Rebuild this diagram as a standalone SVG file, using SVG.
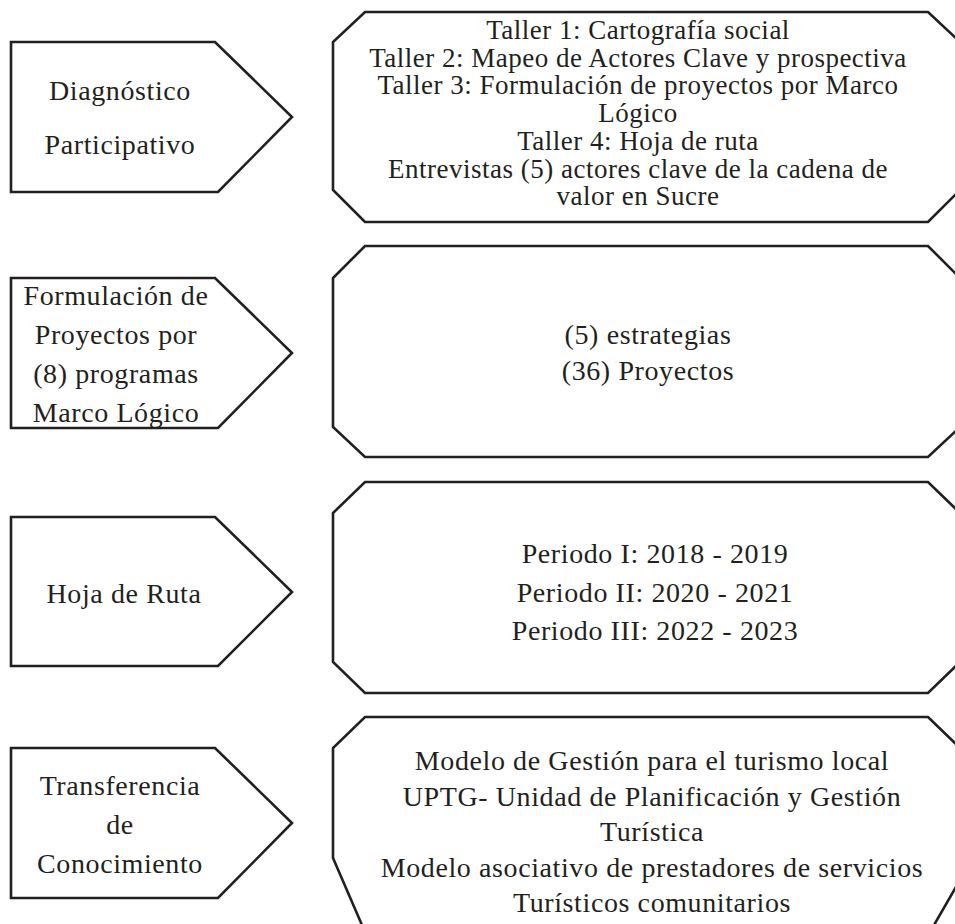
<svg xmlns="http://www.w3.org/2000/svg" width="955" height="924" viewBox="0 0 955 924">
<style>
.shape{fill:#fff;stroke:#231f20;stroke-width:2.6;stroke-linejoin:miter}
.t{font-family:"Liberation Serif","Times New Roman",serif;font-size:28px;letter-spacing:0.6px;fill:#231f20;text-anchor:middle}
.t1{font-size:27px;letter-spacing:0.5px}
</style>
<rect width="955" height="924" fill="#fff"/>
<g id="connectors"/>
<g id="step1">
<polygon class="shape" points="11,42 215,42 292,117 218,192 11,192"/>
<text class="t" x="120" y="100">Diagnóstico</text>
<text class="t" x="120" y="154">Participativo</text>
</g>
<g id="detail1">
<polygon class="shape" points="365,12 928,12 960,42 960,190 928,222 365,222 333,190 333,42"/>
<text class="t t1" x="638" y="39">Taller 1: Cartografía social</text>
<text class="t t1" x="638" y="66.7">Taller 2: Mapeo de Actores Clave y prospectiva</text>
<text class="t t1" x="638" y="94.4">Taller 3: Formulación de proyectos por Marco</text>
<text class="t t1" x="638" y="122.1">Lógico</text>
<text class="t t1" x="638" y="149.8">Taller 4: Hoja de ruta</text>
<text class="t t1" x="638" y="177.5">Entrevistas (5) actores clave de la cadena de</text>
<text class="t t1" x="638" y="205.2">valor en Sucre</text>
</g>
<g id="step2">
<polygon class="shape" points="11,278 215,278 292,353 218,428 11,428"/>
<text class="t" x="116" y="305">Formulación de</text>
<text class="t" x="116" y="344">Proyectos por</text>
<text class="t" x="116" y="383">(8) programas</text>
<text class="t" x="116" y="422">Marco Lógico</text>
</g>
<g id="detail2">
<polygon class="shape" points="365,246 928,246 960,278 960,427 928,457 365,457 333,427 333,278"/>
<text class="t" x="648" y="344">(5) estrategias</text>
<text class="t" x="648" y="380">(36) Proyectos</text>
</g>
<g id="step3">
<polygon class="shape" points="11,517 215,517 292,592 218,666 11,666"/>
<text class="t" x="124" y="603">Hoja de Ruta</text>
</g>
<g id="detail3">
<polygon class="shape" points="365,482 928,482 960,513 960,662 928,693 365,693 333,662 333,513"/>
<text class="t" x="655" y="563">Periodo I: 2018 - 2019</text>
<text class="t" x="655" y="602">Periodo II: 2020 - 2021</text>
<text class="t" x="655" y="640">Periodo III: 2022 - 2023</text>
</g>
<g id="step4">
<polygon class="shape" points="11,748 215,748 292,823 218,898 11,898"/>
<text class="t" x="120" y="795">Transferencia</text>
<text class="t" x="120" y="834">de</text>
<text class="t" x="120" y="873">Conocimiento</text>
</g>
<g id="detail4">
<polygon class="shape" points="365,717 928,717 960,748 960,880 930,932 365,932 333,858 333,748"/>
<text class="t" x="652" y="770">Modelo de Gestión para el turismo local</text>
<text class="t" x="652" y="805.5">UPTG- Unidad de Planificación y Gestión</text>
<text class="t" x="652" y="841">Turística</text>
<text class="t" x="652" y="876.5">Modelo asociativo de prestadores de servicios</text>
<text class="t" x="652" y="912">Turísticos comunitarios</text>
</g>
</svg>
